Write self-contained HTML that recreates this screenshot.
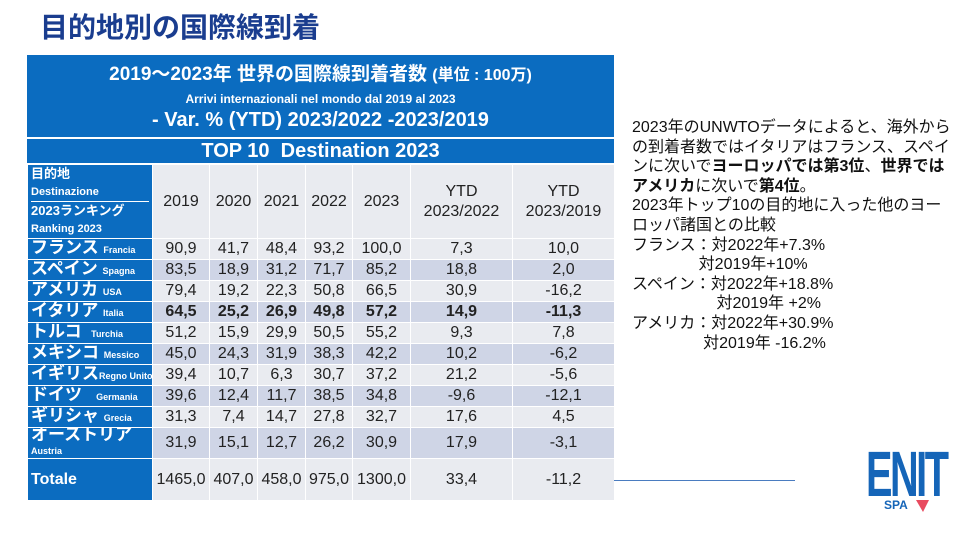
<!DOCTYPE html>
<html><head><meta charset="utf-8">
<style>
body{margin:0;width:960px;height:540px;background:#fff;position:relative;overflow:hidden;font-family:"Liberation Sans","Noto Sans CJK JP",sans-serif;}
.abs{position:absolute;}
#title{left:40px;top:6px;font-size:28px;font-weight:bold;color:#1a3d8f;}
.blue{background:#0b6cc0;color:#fff;}
table{border-collapse:collapse;position:absolute;left:27px;top:164px;width:587px;table-layout:fixed;}
td{padding:0;text-align:center;font-size:16px;line-height:16px;color:#222;border:1px solid #fff;overflow:hidden;box-sizing:border-box;}
td.lab{background:#0b6cc0;color:#fff;text-align:left;font-weight:bold;font-size:17px;line-height:15px;padding-left:3px;white-space:nowrap;}
td.lab small{font-size:9px;}
tr.l td:not(.lab){background:#e9ebf0;}
tr.d td:not(.lab){background:#cfd5e6;}
tr.b td:not(.lab){font-weight:bold;}
#note{left:632px;top:118px;width:322px;font-size:16px;line-height:19.6px;color:#111;}
</style></head><body>
<div id="title" class="abs">目的地別の国際線到着</div>
<div class="abs blue" style="left:27px;top:55px;width:587px;height:82px;text-align:center;">
 <div style="font-size:19px;font-weight:bold;margin-top:4px;">2019～2023年 世界の国際線到着者数 <span style="font-size:16px">(単位 : 100万)</span></div>
 <div style="font-size:12px;font-weight:bold;margin-top:6px;">Arrivi internazionali nel mondo dal 2019 al 2023</div>
 <div style="font-size:20px;font-weight:bold;margin-top:3px;">- Var. % (YTD) 2023/2022 -2023/2019</div>
</div>
<div class="abs blue" style="left:27px;top:139px;width:587px;height:24px;text-align:center;font-size:20px;font-weight:bold;line-height:24px;">TOP 10&nbsp; Destination 2023</div>
<table>
<colgroup><col style="width:125px"><col style="width:57px"><col style="width:48px"><col style="width:48px"><col style="width:47px"><col style="width:58px"><col style="width:102px"><col style="width:102px"></colgroup>
<tr class="l" style="height:73px">
 <td class="lab" style="font-size:13px;line-height:17px;padding:0 3px;"><div style="border-bottom:1px solid #fff">目的地<br><span style="font-size:11px">Destinazione</span></div><div>2023ランキング<br><span style="font-size:11px">Ranking 2023</span></div></td>
 <td>2019</td><td>2020</td><td>2021</td><td>2022</td><td>2023</td><td style="line-height:20px">YTD<br>2023/2022</td><td style="line-height:20px">YTD<br>2023/2019</td></tr>
<tr class="l" style="height:21px"><td class="lab">フランス <small>Francia</small></td><td>90,9</td><td>41,7</td><td>48,4</td><td>93,2</td><td>100,0</td><td>7,3</td><td>10,0</td></tr>
<tr class="d" style="height:21px"><td class="lab">スペイン <small>Spagna</small></td><td>83,5</td><td>18,9</td><td>31,2</td><td>71,7</td><td>85,2</td><td>18,8</td><td>2,0</td></tr>
<tr class="l" style="height:21px"><td class="lab">アメリカ <small>USA</small></td><td>79,4</td><td>19,2</td><td>22,3</td><td>50,8</td><td>66,5</td><td>30,9</td><td>-16,2</td></tr>
<tr class="d b" style="height:21px"><td class="lab">イタリア <small>Italia</small></td><td>64,5</td><td>25,2</td><td>26,9</td><td>49,8</td><td>57,2</td><td>14,9</td><td>-11,3</td></tr>
<tr class="l" style="height:21px"><td class="lab">トルコ&nbsp; <small>Turchia</small></td><td>51,2</td><td>15,9</td><td>29,9</td><td>50,5</td><td>55,2</td><td>9,3</td><td>7,8</td></tr>
<tr class="d" style="height:21px"><td class="lab">メキシコ <small>Messico</small></td><td>45,0</td><td>24,3</td><td>31,9</td><td>38,3</td><td>42,2</td><td>10,2</td><td>-6,2</td></tr>
<tr class="l" style="height:21px"><td class="lab">イギリス<small>Regno Unito</small></td><td>39,4</td><td>10,7</td><td>6,3</td><td>30,7</td><td>37,2</td><td>21,2</td><td>-5,6</td></tr>
<tr class="d" style="height:21px"><td class="lab">ドイツ&nbsp;&nbsp; <small>Germania</small></td><td>39,6</td><td>12,4</td><td>11,7</td><td>38,5</td><td>34,8</td><td>-9,6</td><td>-12,1</td></tr>
<tr class="l" style="height:21px"><td class="lab">ギリシャ <small>Grecia</small></td><td>31,3</td><td>7,4</td><td>14,7</td><td>27,8</td><td>32,7</td><td>17,6</td><td>4,5</td></tr>
<tr class="d" style="height:30px"><td class="lab" style="line-height:14px">オーストリア<br><small>Austria</small></td><td>31,9</td><td>15,1</td><td>12,7</td><td>26,2</td><td>30,9</td><td>17,9</td><td>-3,1</td></tr>
<tr class="l" style="height:42px"><td class="lab" style="font-size:16px">Totale</td><td>1465,0</td><td>407,0</td><td>458,0</td><td>975,0</td><td>1300,0</td><td>33,4</td><td>-11,2</td></tr>
</table>
<div class="abs" style="left:614px;top:480px;width:181px;height:1px;background:#4a7cc0;"></div>
<div id="note" class="abs">2023年のUNWTOデータによると、海外からの到着者数ではイタリアはフランス、スペインに次いで<b>ヨーロッパでは第3位</b>、<b>世界ではアメリカ</b>に次いで<b>第4位</b>。<br>2023年トップ10の目的地に入った他のヨーロッパ諸国との比較<br>フランス：対2022年+7.3%<br>&nbsp;&nbsp;&nbsp;&nbsp;&nbsp;&nbsp;&nbsp;&nbsp;&nbsp;&nbsp;&nbsp;&nbsp;&nbsp;&nbsp;&nbsp;対2019年+10%<br>スペイン：対2022年+18.8%<br>&nbsp;&nbsp;&nbsp;&nbsp;&nbsp;&nbsp;&nbsp;&nbsp;&nbsp;&nbsp;&nbsp;&nbsp;&nbsp;&nbsp;&nbsp;&nbsp;&nbsp;&nbsp;&nbsp;対2019年 +2%<br>アメリカ：対2022年+30.9%<br>&nbsp;&nbsp;&nbsp;&nbsp;&nbsp;&nbsp;&nbsp;&nbsp;&nbsp;&nbsp;&nbsp;&nbsp;&nbsp;&nbsp;&nbsp;&nbsp;対2019年 -16.2%</div>
<div class="abs" style="left:866px;top:446px;width:80px;height:72px;">
 <div style="font-family:'Liberation Sans',sans-serif;font-weight:bold;color:#1565b8;font-size:64px;line-height:56px;letter-spacing:-4px;transform:scaleX(0.62);transform-origin:left;">ENIT</div>
 <div style="position:absolute;left:18px;top:52px;font-size:12px;color:#1565b8;font-weight:bold;">SPA</div>
 <div style="position:absolute;left:50px;top:54px;width:0;height:0;border-left:7px solid transparent;border-right:6px solid transparent;border-top:12px solid #e84a5f;"></div>
</div>
</body></html>
